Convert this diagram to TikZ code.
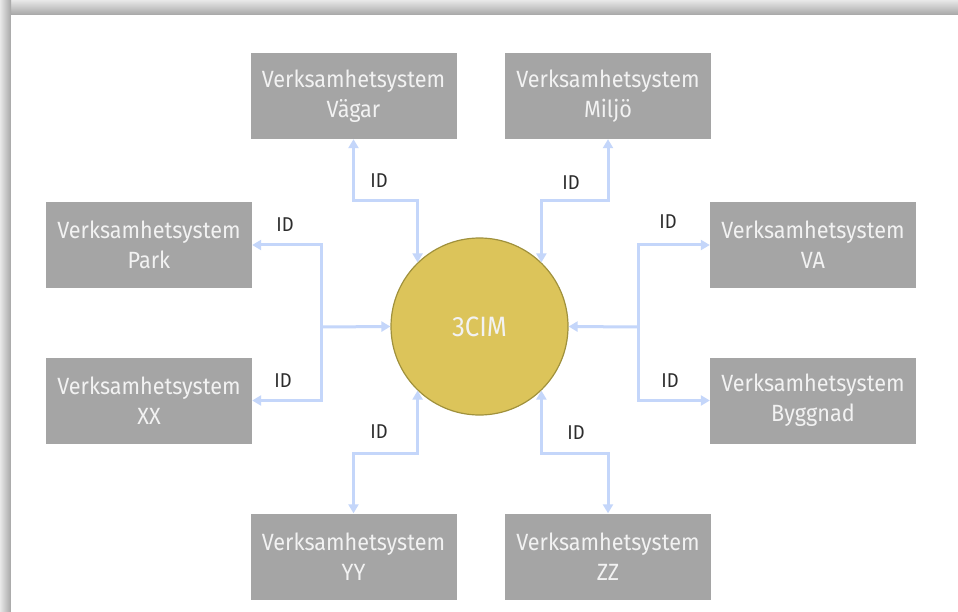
\documentclass[tikz,border=0pt]{standalone}
\usepackage{fontspec}
\setmainfont[FakeStretch=0.92]{Fira Sans}
\usetikzlibrary{arrows.meta}
\definecolor{boxgray}{RGB}{165,165,165}
\definecolor{boxtext}{RGB}{242,242,242}
\definecolor{conncol}{RGB}{196,214,250}
\definecolor{cimfill}{RGB}{220,196,90}
\definecolor{cimedge}{RGB}{160,145,60}
\definecolor{idtext}{RGB}{45,45,45}
\tikzset{
  sysbox/.style={fill=boxgray, draw=none, minimum width=206pt, minimum height=86pt,
    inner sep=0pt, align=center, text=boxtext, font=\fontsize{23.5}{30}\selectfont},
  conn/.style={draw=conncol, line width=3pt,
    arrows={{Triangle[length=9pt,width=10pt]}-{Triangle[length=9pt,width=10pt]}}},
  connone/.style={draw=conncol, line width=3pt, -{Triangle[length=9pt,width=10pt]}},
  idlab/.style={text=idtext, font=\fontsize{20}{22}\selectfont, inner sep=0pt}
}
\begin{document}
\begin{tikzpicture}[x=1pt,y=-1pt]
\useasboundingbox (0,0) rectangle (958,612);
\fill[white] (0,0) rectangle (958,612);
% screenshot shadow
\shade[top color=gray!18, bottom color=gray!70] (0,0) rectangle (958,15);
\shade[left color=gray!18, right color=gray!70] (0,0) rectangle (11,612);
\fill[white] (11,15) rectangle (958,612);

% central circle
\node[circle, fill=cimfill, draw=cimedge, line width=1.2pt, minimum size=177pt,
  inner sep=0pt, text=boxtext, font=\fontsize{28}{30}\selectfont] (c) at (479.5,326.5) {3CIM};

% systems
\node[sysbox] (vag) at (353.5,96) {Verksamhetsystem\\Vägar};
\node[sysbox] (mil) at (608,96) {Verksamhetsystem\\Miljö};
\node[sysbox] (park) at (149,245) {Verksamhetsystem\\Park};
\node[sysbox] (va) at (813,245) {Verksamhetsystem\\VA};
\node[sysbox] (xx) at (149,400.5) {Verksamhetsystem\\XX};
\node[sysbox] (byg) at (813,400.5) {Verksamhetsystem\\Byggnad};
\node[sysbox] (yy) at (353.5,556.5) {Verksamhetsystem\\YY};
\node[sysbox] (zz) at (608,556.5) {Verksamhetsystem\\ZZ};

% junction points
\coordinate (jl) at (321,327);
\coordinate (jr) at (638,327);

% connectors top / bottom
\draw[conn] (vag.south) -- (vag.south |- 0,201) -| (c.134);
\draw[conn] (mil.south) -- (mil.south |- 0,201) -| (c.46);
\draw[conn] (c.-134) -- (c.-134 |- 0,453) -| (yy.north);
\draw[conn] (c.-46) -- (c.-46 |- 0,453) -| (zz.north);

% left / right branches
\draw[connone] (jl) |- (park.east);
\draw[connone] (jl) |- (xx.east);
\draw[connone] (jl) -- (c.west);
\draw[connone] (jr) |- (va.west);
\draw[connone] (jr) |- (byg.west);
\draw[connone] (jr) -- (c.east);

% ID labels
\node[idlab] (id1) at (379,181) {ID};
\node[idlab] (id2) at (571,183) {ID};
\node[idlab] (id3) at (285,225) {ID};
\node[idlab] (id4) at (283,381) {ID};
\node[idlab] (id5) at (668,222) {ID};
\node[idlab] (id6) at (670,381) {ID};
\node[idlab] (id7) at (379,432) {ID};
\node[idlab] (id8) at (576,433) {ID};
\end{tikzpicture}
\end{document}
